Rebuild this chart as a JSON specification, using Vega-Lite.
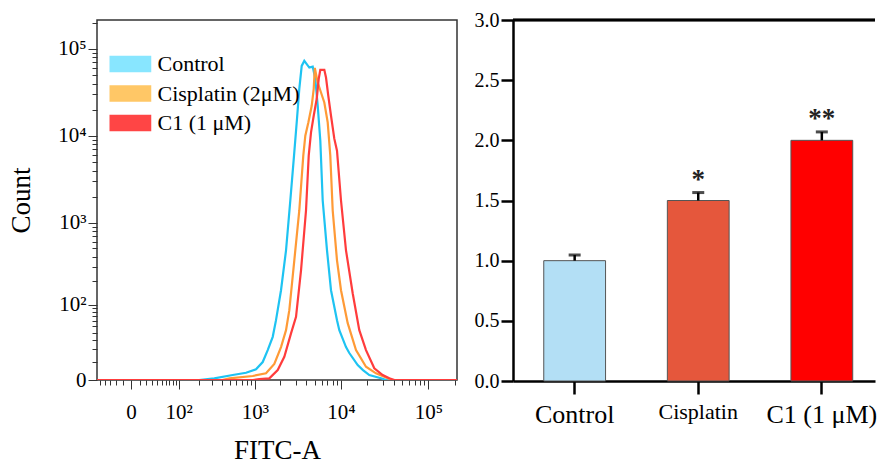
{
  "$schema": "https://vega.github.io/schema/vega-lite/v6.json",
  "padding": {"left": 6, "top": 10, "right": 0, "bottom": 0},
  "background": "white",
  "config": {
    "font": "Liberation Serif",
    "view": {"stroke": null},
    "axis": {"labelFont": "Liberation Serif", "titleFont": "Liberation Serif"},
    "legend": {"labelFont": "Liberation Serif", "titleFont": "Liberation Serif"},
    "text": {"font": "Liberation Serif"}
  },
  "bounds": "flush",
  "spacing": 56,
  "resolve": {"scale": {"color": "independent"}, "legend": {"color": "independent"}},
  "hconcat": [
    {
      "width": 360,
      "height": 360,
      "view": {"stroke": "#333333", "strokeWidth": 1.5},
      "data": {
        "values": [
          {"sample": "Control", "fitc": -58, "count": 0},
          {"sample": "Control", "fitc": 200, "count": 0},
          {"sample": "Control", "fitc": 318, "count": 0.73},
          {"sample": "Control", "fitc": 541, "count": 2.25},
          {"sample": "Control", "fitc": 785, "count": 3.39},
          {"sample": "Control", "fitc": 1033, "count": 5.2},
          {"sample": "Control", "fitc": 1240, "count": 9.7},
          {"sample": "Control", "fitc": 1420, "count": 19.2},
          {"sample": "Control", "fitc": 1626, "count": 34},
          {"sample": "Control", "fitc": 1776, "count": 61.6},
          {"sample": "Control", "fitc": 2032, "count": 155},
          {"sample": "Control", "fitc": 2324, "count": 474},
          {"sample": "Control", "fitc": 2606, "count": 1810},
          {"sample": "Control", "fitc": 2878, "count": 5950},
          {"sample": "Control", "fitc": 3116, "count": 15780},
          {"sample": "Control", "fitc": 3312, "count": 34770},
          {"sample": "Control", "fitc": 3532, "count": 63680},
          {"sample": "Control", "fitc": 3784, "count": 72640},
          {"sample": "Control", "fitc": 4324, "count": 60900},
          {"sample": "Control", "fitc": 4732, "count": 62510},
          {"sample": "Control", "fitc": 5068, "count": 45230},
          {"sample": "Control", "fitc": 5404, "count": 22220},
          {"sample": "Control", "fitc": 5788, "count": 8836},
          {"sample": "Control", "fitc": 6168, "count": 1810},
          {"sample": "Control", "fitc": 6912, "count": 474},
          {"sample": "Control", "fitc": 7684, "count": 155},
          {"sample": "Control", "fitc": 9004, "count": 61.6},
          {"sample": "Control", "fitc": 9572, "count": 43.6},
          {"sample": "Control", "fitc": 11420, "count": 22.1},
          {"sample": "Control", "fitc": 12464, "count": 16.6},
          {"sample": "Control", "fitc": 15556, "count": 7.7},
          {"sample": "Control", "fitc": 17884, "count": 4.8},
          {"sample": "Control", "fitc": 21120, "count": 2.25},
          {"sample": "Control", "fitc": 28748, "count": 0.73},
          {"sample": "Control", "fitc": 33000, "count": 0},
          {"sample": "Control", "fitc": 212800, "count": 0},
          {"sample": "Cisplatin (2μM)", "fitc": -58, "count": 0},
          {"sample": "Cisplatin (2μM)", "fitc": 400, "count": 0},
          {"sample": "Cisplatin (2μM)", "fitc": 492, "count": 0.73},
          {"sample": "Cisplatin (2μM)", "fitc": 944, "count": 1.78},
          {"sample": "Cisplatin (2μM)", "fitc": 1356, "count": 3.09},
          {"sample": "Cisplatin (2μM)", "fitc": 1697, "count": 8.4},
          {"sample": "Cisplatin (2μM)", "fitc": 2032, "count": 22.1},
          {"sample": "Cisplatin (2μM)", "fitc": 2324, "count": 43.6},
          {"sample": "Cisplatin (2μM)", "fitc": 2538, "count": 85},
          {"sample": "Cisplatin (2μM)", "fitc": 2900, "count": 360},
          {"sample": "Cisplatin (2μM)", "fitc": 3312, "count": 1387},
          {"sample": "Cisplatin (2μM)", "fitc": 3684, "count": 5950},
          {"sample": "Cisplatin (2μM)", "fitc": 3888, "count": 10080},
          {"sample": "Cisplatin (2μM)", "fitc": 4208, "count": 14200},
          {"sample": "Cisplatin (2μM)", "fitc": 4608, "count": 22220},
          {"sample": "Cisplatin (2μM)", "fitc": 4860, "count": 34770},
          {"sample": "Cisplatin (2μM)", "fitc": 5004, "count": 60420},
          {"sample": "Cisplatin (2μM)", "fitc": 5404, "count": 41040},
          {"sample": "Cisplatin (2μM)", "fitc": 5896, "count": 31540},
          {"sample": "Cisplatin (2μM)", "fitc": 6436, "count": 24240},
          {"sample": "Cisplatin (2μM)", "fitc": 7040, "count": 14310},
          {"sample": "Cisplatin (2μM)", "fitc": 7540, "count": 5950},
          {"sample": "Cisplatin (2μM)", "fitc": 8036, "count": 1387},
          {"sample": "Cisplatin (2μM)", "fitc": 9004, "count": 360},
          {"sample": "Cisplatin (2μM)", "fitc": 10008, "count": 155},
          {"sample": "Cisplatin (2μM)", "fitc": 11948, "count": 55.7},
          {"sample": "Cisplatin (2μM)", "fitc": 14872, "count": 19.2},
          {"sample": "Cisplatin (2μM)", "fitc": 19360, "count": 6.7},
          {"sample": "Cisplatin (2μM)", "fitc": 25200, "count": 3.09},
          {"sample": "Cisplatin (2μM)", "fitc": 34300, "count": 0.73},
          {"sample": "Cisplatin (2μM)", "fitc": 39000, "count": 0},
          {"sample": "Cisplatin (2μM)", "fitc": 212800, "count": 0},
          {"sample": "C1 (1 μM)", "fitc": -58, "count": 0},
          {"sample": "C1 (1 μM)", "fitc": 950, "count": 0},
          {"sample": "C1 (1 μM)", "fitc": 1131, "count": 0.43},
          {"sample": "C1 (1 μM)", "fitc": 1483, "count": 0.73},
          {"sample": "C1 (1 μM)", "fitc": 1860, "count": 4.8},
          {"sample": "C1 (1 μM)", "fitc": 2220, "count": 13.5},
          {"sample": "C1 (1 μM)", "fitc": 2656, "count": 38.7},
          {"sample": "C1 (1 μM)", "fitc": 3036, "count": 68.6},
          {"sample": "C1 (1 μM)", "fitc": 3468, "count": 273},
          {"sample": "C1 (1 μM)", "fitc": 3960, "count": 1387},
          {"sample": "C1 (1 μM)", "fitc": 4256, "count": 5950},
          {"sample": "C1 (1 μM)", "fitc": 4524, "count": 11000},
          {"sample": "C1 (1 μM)", "fitc": 4860, "count": 17070},
          {"sample": "C1 (1 μM)", "fitc": 5264, "count": 26720},
          {"sample": "C1 (1 μM)", "fitc": 5548, "count": 45230},
          {"sample": "C1 (1 μM)", "fitc": 5788, "count": 57330},
          {"sample": "C1 (1 μM)", "fitc": 6436, "count": 57330},
          {"sample": "C1 (1 μM)", "fitc": 6732, "count": 46820},
          {"sample": "C1 (1 μM)", "fitc": 7152, "count": 28910},
          {"sample": "C1 (1 μM)", "fitc": 7684, "count": 17070},
          {"sample": "C1 (1 μM)", "fitc": 8384, "count": 9320},
          {"sample": "C1 (1 μM)", "fitc": 9004, "count": 6790},
          {"sample": "C1 (1 μM)", "fitc": 10008, "count": 1810},
          {"sample": "C1 (1 μM)", "fitc": 11420, "count": 474},
          {"sample": "C1 (1 μM)", "fitc": 13628, "count": 142},
          {"sample": "C1 (1 μM)", "fitc": 16224, "count": 43.6},
          {"sample": "C1 (1 μM)", "fitc": 19360, "count": 19.2},
          {"sample": "C1 (1 μM)", "fitc": 24096, "count": 5.8},
          {"sample": "C1 (1 μM)", "fitc": 30060, "count": 2.25},
          {"sample": "C1 (1 μM)", "fitc": 35776, "count": 0.73},
          {"sample": "C1 (1 μM)", "fitc": 41000, "count": 0},
          {"sample": "C1 (1 μM)", "fitc": 212800, "count": 0}
        ]
      },
      "mark": {"type": "line", "strokeWidth": 2.2, "clip": true},
      "encoding": {
        "x": {
          "field": "fitc",
          "type": "quantitative",
          "scale": {"type": "symlog", "constant": 40, "domain": [-58, 212800], "nice": false, "zero": false},
          "axis": {
            "title": "FITC-A",
            "titleFont": "Liberation Serif",
            "titleFontSize": 27,
            "titleFontWeight": "normal",
            "titleColor": "black",
            "titlePadding": 15,
            "domain": false,
            "grid": false,
            "values": [-50, -40, -30, -20, -10, 0, 10, 20, 30, 40, 50, 60, 70, 80, 90, 100, 200, 300, 400, 500, 600, 700, 800, 900, 1000, 2000, 3000, 4000, 5000, 6000, 7000, 8000, 9000, 10000, 20000, 30000, 40000, 50000, 60000, 70000, 80000, 90000, 100000, 200000],
            "labelExpr": "datum.value == 0 ? '0' : datum.value == 100 ? '10²' : datum.value == 1000 ? '10³' : datum.value == 10000 ? '10⁴' : datum.value == 100000 ? '10⁵' : ''",
            "labelFont": "Liberation Serif",
            "labelFontSize": 21,
            "labelColor": "black",
            "labelPadding": 12,
            "labelOverlap": false,
            "labelFlush": false,
            "tickColor": "#333333",
            "tickWidth": 1,
            "tickSize": {"condition": {"test": "datum.value == 0 || datum.value == 100 || datum.value == 1000 || datum.value == 10000 || datum.value == 100000", "value": 9}, "value": 5}
          }
        },
        "y": {
          "field": "count",
          "type": "quantitative",
          "scale": {"type": "symlog", "constant": 16, "domain": [0, 213840], "nice": false},
          "axis": {
            "title": "Count",
            "titleFont": "Liberation Serif",
            "titleFontSize": 27,
            "titleFontWeight": "normal",
            "titleColor": "black",
            "titlePadding": 22,
            "domain": false,
            "grid": false,
            "values": [0, 10, 20, 30, 40, 50, 60, 70, 80, 90, 100, 200, 300, 400, 500, 600, 700, 800, 900, 1000, 2000, 3000, 4000, 5000, 6000, 7000, 8000, 9000, 10000, 20000, 30000, 40000, 50000, 60000, 70000, 80000, 90000, 100000, 200000],
            "labelExpr": "datum.value == 0 ? '0' : datum.value == 100 ? '10²' : datum.value == 1000 ? '10³' : datum.value == 10000 ? '10⁴' : datum.value == 100000 ? '10⁵' : ''",
            "labelFont": "Liberation Serif",
            "labelFontSize": 21,
            "labelColor": "black",
            "labelPadding": 2,
            "labelOverlap": false,
            "labelFlush": false,
            "tickColor": "#333333",
            "tickWidth": 1,
            "tickSize": {"condition": {"test": "datum.value == 0 || datum.value == 100 || datum.value == 1000 || datum.value == 10000 || datum.value == 100000", "value": 9}, "value": 5}
          }
        },
        "color": {
          "field": "sample",
          "type": "nominal",
          "scale": {"domain": ["Control", "Cisplatin (2μM)", "C1 (1 μM)"], "range": ["#1EC3F2", "#FF9A36", "#FF3C3C"]},
          "legend": {
            "title": null,
            "orient": "none",
            "legendX": 1.5,
            "legendY": 33,
            "symbolType": "M0,-1L5,-1L5,1L0,1Z",
            "symbolSize": 279,
            "symbolStrokeWidth": 0,
            "labelFont": "Liberation Serif",
            "labelFontSize": 22,
            "labelColor": "black",
            "labelOffset": 37,
            "rowPadding": 7.5,
            "labelLimit": 300,
            "encode": {
              "symbols": {
                "update": {
                  "fill": {"signal": "datum.value === 'Control' ? '#88E6FF' : datum.value === 'C1 (1 μM)' ? '#FF4545' : '#FFC766'"},
                  "fillOpacity": {"value": 1},
                  "opacity": {"value": 1},
                  "stroke": {"value": "transparent"}
                }
              }
            }
          }
        }
      }
    },
    {
      "width": 362,
      "height": 361,
      "data": {
        "values": [
          {"group": "Control", "mean": 1.0, "upper": 1.047, "sig": ""},
          {"group": "Cisplatin", "mean": 1.5, "upper": 1.566, "sig": "*"},
          {"group": "C1 (1 μM)", "mean": 2.0, "upper": 2.07, "sig": "**"}
        ]
      },
      "layer": [
        {
          "mark": {"type": "bar", "stroke": "#555555", "strokeWidth": 1},
          "encoding": {
            "x": {
              "field": "group",
              "type": "nominal",
              "sort": null,
              "title": null,
              "scale": {"paddingInner": 0.5, "paddingOuter": 0.2146, "align": 0.58},
              "axis": {
                "labelAngle": 0,
                "labelFont": "Liberation Serif",
                "labelFontSize": {"condition": {"test": "datum.value == 'Cisplatin'", "value": 22}, "value": 26},
                "labelColor": "black",
                "labelPadding": 7,
                "tickSize": 13,
                "tickWidth": 2.5,
                "tickColor": "black",
                "domainColor": "black",
                "domainWidth": 2.5,
                "grid": false
              }
            },
            "y": {
              "field": "mean",
              "type": "quantitative",
              "title": null,
              "scale": {"domain": [0, 3], "nice": false},
              "axis": {
                "values": [0, 0.5, 1, 1.5, 2, 2.5, 3],
                "format": ".1f",
                "labelFont": "Liberation Serif",
                "labelFontSize": 20,
                "labelColor": "black",
                "labelPadding": 2,
                "labelFlush": false,
                "labelOverlap": false,
                "tickSize": 12,
                "tickWidth": 2.5,
                "tickColor": "black",
                "domainColor": "black",
                "domainWidth": 2.5,
                "grid": false
              }
            },
            "color": {
              "field": "group",
              "type": "nominal",
              "scale": {"domain": ["Control", "Cisplatin", "C1 (1 μM)"], "range": ["#B3DFF5", "#E5573C", "#FF0000"]},
              "legend": null
            }
          }
        },
        {
          "mark": {"type": "rule", "strokeWidth": 2.5, "color": "black"},
          "encoding": {
            "x": {"field": "group", "type": "nominal", "sort": null, "title": null},
            "y": {"field": "mean", "type": "quantitative", "title": null},
            "y2": {"field": "upper"}
          }
        },
        {
          "mark": {"type": "tick", "thickness": 3, "size": 12, "color": "black", "orient": "horizontal"},
          "encoding": {
            "x": {"field": "group", "type": "nominal", "sort": null, "title": null},
            "y": {"field": "upper", "type": "quantitative", "title": null}
          }
        },
        {
          "mark": {"type": "text", "fontSize": 27, "fontWeight": "bold", "baseline": "alphabetic", "dy": -5, "color": "#222222", "font": "Liberation Serif"},
          "encoding": {
            "x": {"field": "group", "type": "nominal", "sort": null, "title": null},
            "y": {"field": "upper", "type": "quantitative", "title": null},
            "text": {"field": "sig"}
          }
        },
        {
          "mark": {"type": "rule", "strokeWidth": 2.5, "color": "black"},
          "encoding": {"y": {"datum": 3}}
        }
      ]
    }
  ]
}
